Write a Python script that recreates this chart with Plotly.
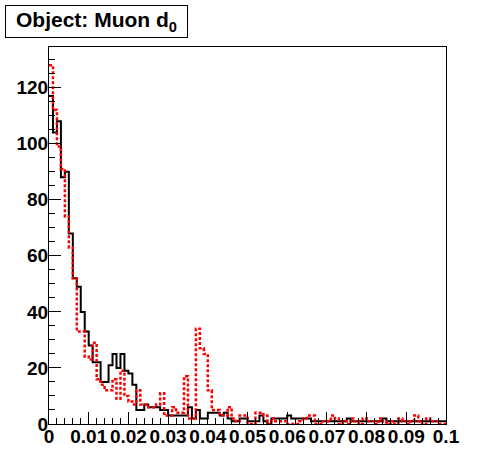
import numpy as np
import plotly.graph_objects as go

# 100 bins of 0.001 from 0 to 0.1
n_bins = 100
x_min, x_max = 0.0, 0.1

black_counts = [
    117, 104, 108, 88, 90, 68, 52, 49, 40, 33,
    28, 22, 22, 15, 15, 21, 25, 20, 25, 19,
    18, 14, 5, 5, 7, 6, 6, 6, 5, 5,
    3, 3, 3, 3, 3, 6, 2, 5, 2, 2,
    4, 4, 4, 3, 4, 2, 1, 1, 2, 2,
    1, 1, 1, 3, 1, 0, 2, 2, 2, 2,
    3, 2, 2, 2, 2, 2, 1, 1, 1, 1,
    1, 1, 1, 1, 1, 2, 1, 1, 1, 1,
    1, 1, 1, 1, 2, 1, 1, 1, 1, 1,
    1, 1, 1, 1, 1, 1, 1, 1, 1, 1,
]

red_counts = [
    128, 112, 99, 91, 74, 63, 52, 33, 33, 24,
    23, 29, 16, 14, 12, 12, 16, 9, 19, 10,
    8, 7, 12, 7, 7, 6, 6, 7, 11, 3,
    3, 6, 4, 4, 17, 2, 2, 34, 27, 25,
    12, 5, 5, 3, 3, 6, 2, 1, 3, 3,
    0, 0, 4, 4, 3, 0, 2, 1, 1, 1,
    0, 0, 0, 1, 2, 3, 3, 0, 0, 1,
    1, 3, 2, 0, 1, 0, 2, 1, 0, 2,
    1, 1, 0, 2, 1, 0, 1, 0, 2, 1,
    0, 1, 3, 1, 0, 2, 1, 1, 0, 0,
]

x_ticks = [0, 0.01, 0.02, 0.03, 0.04, 0.05, 0.06, 0.07, 0.08, 0.09, 0.1]
x_tick_labels = ['0', '0.01', '0.02', '0.03', '0.04', '0.05', '0.06', '0.07', '0.08', '0.09', '0.1']
y_ticks = [0, 20, 40, 60, 80, 100, 120]

edges = np.linspace(x_min, x_max, n_bins + 1)


def step(counts):
    return list(counts) + [counts[-1]]


fig = go.Figure()

fig.add_trace(go.Scatter(
    x=edges, y=step(black_counts),
    mode='lines', line=dict(color='black', width=2, shape='hv'),
    showlegend=False,
))
fig.add_trace(go.Scatter(
    x=edges, y=step(red_counts),
    mode='lines', line=dict(color='#ff0000', width=2.5, shape='hv', dash='3px,2px'),
    showlegend=False,
))

tick_font = dict(family='Liberation Sans', size=19, color='black', weight='bold')

fig.update_xaxes(
    range=[x_min, x_max],
    tickvals=x_ticks, ticktext=x_tick_labels,
    ticks='inside', ticklen=12, tickwidth=1, tickcolor='black',
    minor=dict(dtick=0.002, ticks='inside', ticklen=6, tickcolor='black'),
    showline=True, linecolor='black', linewidth=1, mirror=True,
    showgrid=False, zeroline=False,
    tickfont=tick_font, ticklabelstandoff=-5,
)
fig.update_yaxes(
    range=[0, 134.5],
    tickvals=y_ticks,
    ticks='inside', ticklen=12, tickwidth=1, tickcolor='black',
    minor=dict(dtick=5, ticks='inside', ticklen=6, tickcolor='black'),
    showline=True, linecolor='black', linewidth=1, mirror=True,
    showgrid=False, zeroline=False,
    tickfont=tick_font, ticklabelstandoff=-4,
)

fig.add_annotation(
    text='Object: Muon d<sub>0</sub>',
    xref='paper', yref='paper',
    x=-0.111, y=1.111, xanchor='left', yanchor='top',
    showarrow=False,
    width=179, height=29,
    bordercolor='black', borderwidth=1, bgcolor='white',
    font=dict(family='Liberation Sans', size=21, color='black', weight='bold'),
)

fig.update_layout(
    width=496, height=472,
    margin=dict(l=49, r=50, t=47, b=48),
    paper_bgcolor='white', plot_bgcolor='white',
)

fig.write_html(
    'out.html',
    config={'displayModeBar': False},
    post_script="document.body.style.margin='0px';",
)
